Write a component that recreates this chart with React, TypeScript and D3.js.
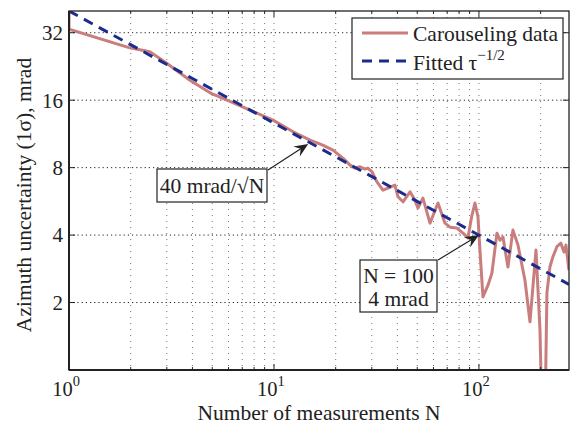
import * as d3 from "d3";

// axis ticks
const xMajor = [1, 10, 100];
const xMinor = [2, 3, 4, 5, 6, 7, 8, 9, 20, 30, 40, 50, 60, 70, 80, 90, 200];
const yTicks = [2, 4, 8, 16, 32];

// carouseling data
const carN = [1, 1, 1.98, 2.48, 2.94, 3.89, 4.97, 6.22, 7.64, 9.89,
  12.4, 15, 17.3, 19.4, 21.7, 23.5, 24.8, 26.3, 27.8, 28.7,
  30.1, 31.8, 34, 36, 38.9, 40.3, 42.6, 46.1, 48.7, 50.4,
  53.3, 57.7, 63.1, 68.3, 72.2, 78.1, 83.6, 88.4, 92.1, 95.6,
  98.9, 101.1, 104.6, 110.7, 115.7, 122.4, 126.6, 131, 138.5, 146.5,
  155, 167.6, 177.4, 189.8, 198.5, 203, 210, 214.6, 222, 229.6,
  240, 251, 260, 265.8, 274.8];
const carVal = [60, 33.2, 27.4, 26.3, 23.7, 19.65, 17.1, 15.7, 14.44, 13.03,
  11.56, 10.61, 10.08, 9.57, 8.82, 8.21, 7.96, 8.07, 7.88, 7.96,
  7.66, 6.91, 6.35, 6.48, 6.68, 5.93, 5.63, 6.24, 5.73, 5.28,
  5.85, 4.52, 5.56, 4.52, 4.34, 4.30, 4.08, 3.88, 4.83, 5.56,
  4.83, 3.43, 2.12, 2.39, 2.71, 4.08, 3.80, 3.92, 2.88, 4.21,
  3.61, 2.52, 1.64, 3.43, 1.51, 0.6, 0.6, 2.21, 2.89, 3.20,
  3.55, 3.68, 3.36, 3.61, 2.79];

// fitted 40 mrad / sqrt(N), straight on log-log
const fitN = [1, 275];
const fitVal = [40, 2.41];

// annotations
const noteFit = { n: 14.7, v: 10.2 };
const noteHundred = { n: 100, v: 4 };

const W = 571, H = 426;
const left = 69, right = 569, top = 11, bottom = 370;
const font = "'Liberation Serif', 'Times New Roman', serif";
const pink = "#c97d7d";
const navy = "#1c2c8c";
const fs = 21.5;

function Arrow({ x1, y1, x2, y2 }: { x1: number; y1: number; x2: number; y2: number }) {
  const a = Math.atan2(y2 - y1, x2 - x1);
  return (
    <g>
      <line x1={x1} y1={y1} x2={x2 - 8 * Math.cos(a)} y2={y2 - 8 * Math.sin(a)} stroke="#222" strokeWidth={1.2} />
      <path d="M0,0 L-14,-6 L-9,0 L-14,6 Z" fill="#222" transform={`translate(${x2},${y2}) rotate(${a * 180 / Math.PI})`} />
    </g>
  );
}

export default function App() {
  const x = d3.scaleLog().domain([1, 275]).range([left, right]);
  const y = d3.scaleLog().base(2).domain([1, 40]).range([bottom, top]);

  const line = d3.line<number>()
    .x((_, i) => x(carN[i]))
    .y((d) => y(d));
  const fitLine = d3.line<number>()
    .x((_, i) => x(fitN[i]))
    .y((d) => y(d));

  const allX = [...xMajor, ...xMinor];

  const t1x = x(noteFit.n), t1y = y(noteFit.v);
  const t2x = x(noteHundred.n), t2y = y(noteHundred.v);

  return (
    <svg width={W} height={H} style={{ position: "absolute", left: 0, top: 0, background: "#fff" }}
      fontFamily={font}>
      <defs>
        <clipPath id="plot">
          <rect x={left} y={top} width={right - left} height={bottom - top} />
        </clipPath>
      </defs>

      {/* grid */}
      {allX.map((t) => (
        <line key={"gx" + t} x1={x(t)} x2={x(t)} y1={top} y2={bottom}
          stroke="#777" strokeWidth={1} strokeDasharray="1,5" />
      ))}
      {yTicks.map((t) => (
        <line key={"gy" + t} x1={left} x2={right} y1={y(t)} y2={y(t)}
          stroke="#222" strokeWidth={1} strokeDasharray="1.2,3" />
      ))}

      {/* data */}
      <g clipPath="url(#plot)">
        <path d={line(carVal) || ""} fill="none" stroke={pink} strokeWidth={3} strokeLinejoin="round" />
        <path d={fitLine(fitVal) || ""} fill="none" stroke={navy} strokeWidth={3} strokeDasharray="10,7" />
      </g>

      {/* box */}
      <rect x={left} y={top} width={right - left} height={bottom - top} fill="none" stroke="#222" strokeWidth={1.3} />
      <line x1={left} x2={left} y1={top} y2={bottom} stroke="#222" strokeWidth={2} />
      <line x1={left} x2={right} y1={bottom} y2={bottom} stroke="#222" strokeWidth={2} />

      {/* ticks */}
      {xMajor.map((t) => (
        <g key={"tx" + t}>
          <line x1={x(t)} x2={x(t)} y1={bottom} y2={bottom - 6} stroke="#222" />
          <line x1={x(t)} x2={x(t)} y1={top} y2={top + 6} stroke="#222" />
        </g>
      ))}
      {xMinor.map((t) => (
        <g key={"mx" + t}>
          <line x1={x(t)} x2={x(t)} y1={bottom} y2={bottom - 3} stroke="#222" />
          <line x1={x(t)} x2={x(t)} y1={top} y2={top + 3} stroke="#222" />
        </g>
      ))}
      {yTicks.map((t) => (
        <g key={"ty" + t}>
          <line x1={left} x2={left + 6} y1={y(t)} y2={y(t)} stroke="#222" />
          <line x1={right} x2={right - 6} y1={y(t)} y2={y(t)} stroke="#222" />
          <text x={left - 6} y={y(t)} dy="0.35em" textAnchor="end" fontSize={21} fill="#222">{t}</text>
        </g>
      ))}
      {xMajor.map((t) => (
        <text key={"lx" + t} x={x(t) - 3} y={396} textAnchor="middle" fontSize={20.5} fill="#222">
          10<tspan dy={-10} fontSize={14.5}>{Math.round(Math.log10(t))}</tspan>
        </text>
      ))}

      {/* axis labels */}
      <text x={(left + right) / 2} y={420} textAnchor="middle" fontSize={fs} fill="#222">Number of measurements N</text>
      <text transform={`translate(31,195) rotate(-90)`} textAnchor="middle" fontSize={fs} fill="#222">
        Azimuth uncertainty (1σ), mrad
      </text>

      {/* legend */}
      <rect x={352} y={18} width={211} height={61} fill="#fff" stroke="#222" strokeWidth={1.2} />
      <line x1={362} x2={408} y1={33} y2={33} stroke={pink} strokeWidth={3} />
      <text x={413} y={41} fontSize={fs} fill="#222">Carouseling data</text>
      <line x1={362} x2={408} y1={61} y2={61} stroke={navy} strokeWidth={3} strokeDasharray="10,7" />
      <text x={413} y={70} fontSize={fs} fill="#222">Fitted τ<tspan dy={-10} fontSize={15}>−1/2</tspan></text>

      {/* annotations */}
      <Arrow x1={268} y1={170} x2={t1x} y2={t1y} />
      <rect x={157} y={169} width={110} height={33} fill="#fff" stroke="#222" strokeWidth={1.2} />
      <text x={212} y={193} textAnchor="middle" fontSize={fs} fill="#222">40 mrad/√N</text>

      <Arrow x1={438} y1={260} x2={t2x} y2={t2y} />
      <rect x={360} y={260} width={77} height={52} fill="#fff" stroke="#222" strokeWidth={1.2} />
      <text x={398.5} y={283} textAnchor="middle" fontSize={fs} fill="#222">N = 100</text>
      <text x={398.5} y={306} textAnchor="middle" fontSize={fs} fill="#222">4 mrad</text>
    </svg>
  );
}
